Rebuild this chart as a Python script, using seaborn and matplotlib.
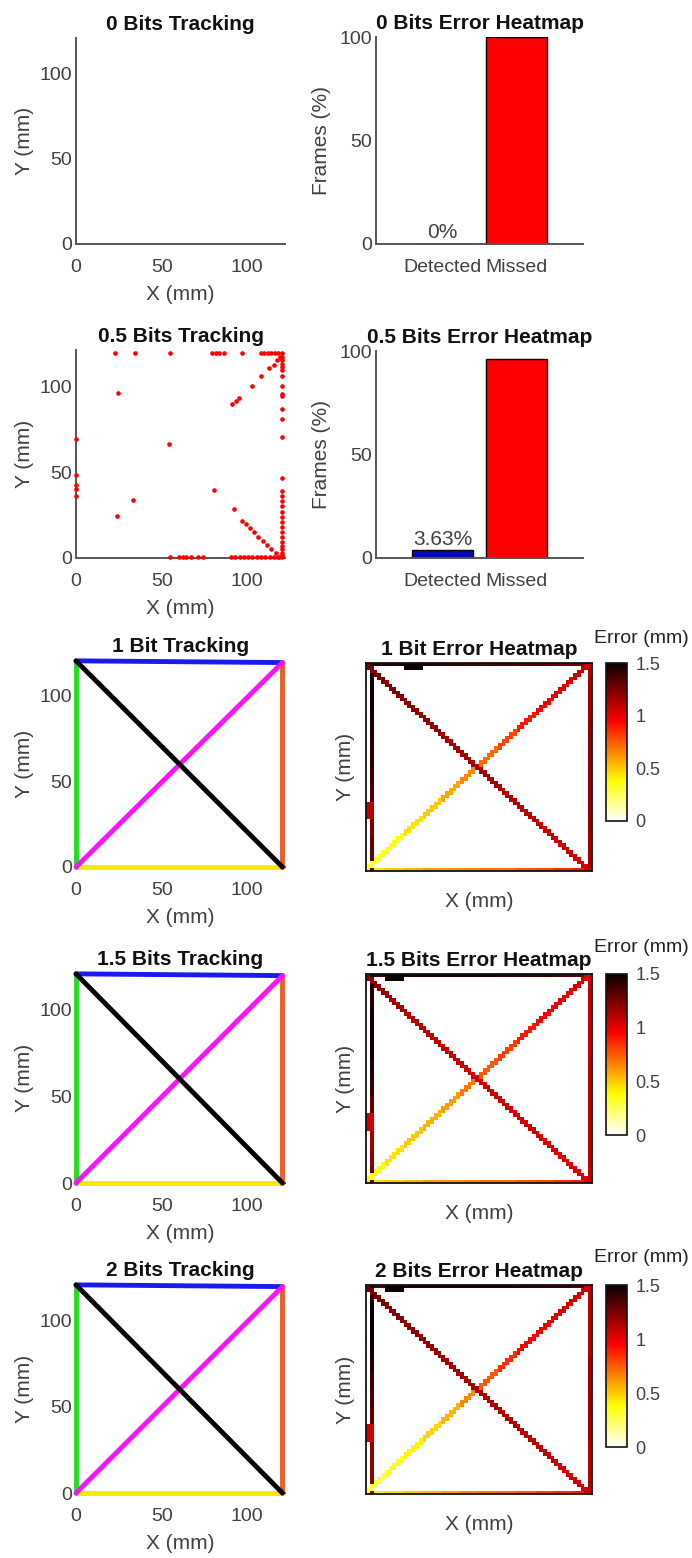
import numpy as np
import matplotlib
matplotlib.use("Agg")
import matplotlib.pyplot as plt
import seaborn as sns

sns.set_theme(style="white")
plt.rcParams["font.family"] = ["Liberation Sans", "DejaVu Sans"]

W, H = 692, 1558
GREY = "#404040"
SPINE = "#555555"

# ---------------------------------------------------------------- data
bar_categories = ["Detected", "Missed"]
frames_0bit = [0.0, 100.0]
frames_05bit = [3.63, 96.37]
bar_colors = ["#0a0ab4", "#ff0000"]

# 0.5 bit: scattered position estimates (mm)
pts05_x = [22.6, 34.2, 55.0, 79.5, 81.5, 83.5, 86.5, 96.7, 108, 110, 112, 114, 116, 118, 120,
           24.6, 0.0, 54.2, 0.0, 0.0, 0.0, 0.0, 80.7, 33.3, 24.0, 92.3,
           91.3, 93.2, 95.2, 102.5, 107.8, 112.6, 115.5, 117.5, 119.0,
           120.3, 120.3, 120.3, 120.3, 120.3, 120.3, 120.3, 120.3, 120.3, 120.3, 120.3, 120.3,
           120.3, 120.3, 120.3, 120.3, 120.3, 120.3, 120.3, 120.3, 120.3, 120.3, 120.3, 120.3,
           120.3, 120.3, 120.3, 120.3,
           97.1, 99.5, 101.5, 104.0, 106.5, 109.0, 111.5, 114.0, 116.5, 118.5,
           54.6, 60.4, 62.3, 64.3, 67.2, 71.0, 73.9, 90.3, 93.0, 95.5, 98.0, 100.5, 103.0,
           105.5, 108.0, 110.5, 113.0, 115.5, 118.0, 120.3]
pts05_y = [119.5, 119.5, 119.5, 119.5, 119.5, 119.5, 119.5, 119.5, 119.5, 119.5, 119.5, 119.5,
           119.5, 119.5, 119.5,
           96.2, 69.4, 66.5, 48.0, 42.5, 40.0, 36.0, 39.8, 33.5, 24.5, 28.3,
           89.5, 91.4, 93.3, 100.3, 105.7, 110.5, 112.4, 115.0, 117.0,
           117.0, 115.0, 113.0, 111.0, 109.6, 105.7, 100.0, 95.2, 94.3, 86.6, 80.9, 70.4,
           46.5, 38.8, 36.0, 33.0, 30.0, 27.0, 24.0, 21.0, 18.0, 15.0, 12.0, 9.5,
           7.0, 5.0, 3.0, 1.5,
           21.6, 19.5, 17.3, 14.9, 12.5, 10.0, 7.7, 5.3, 2.9, 0.6,
           0.3, 0.3, 0.3, 0.3, 0.3, 0.3, 0.3, 0.3, 0.3, 0.3, 0.3, 0.3, 0.3,
           0.3, 0.3, 0.3, 0.3, 0.3, 0.3, 0.3]

# tracked trajectory segments (mm), drawn in this order
seg_names = ["bottom", "left", "top", "right", "diag_up", "diag_down"]
seg_x = {"bottom": [0, 120.5], "left": [0, 0], "top": [0, 120.5],
         "right": [120.5, 120.5], "diag_up": [0, 120.5], "diag_down": [0, 120.5]}
seg_y = {"bottom": [0, 0], "left": [0, 120.5], "top": [120.5, 119.5],
         "right": [119.5, 0], "diag_up": [0, 119.5], "diag_down": [120.5, 0]}
seg_colors = {"bottom": "#ffe600", "left": "#22dd22", "top": "#1a1aee",
              "right": "#e8602c", "diag_up": "#ff11ff", "diag_down": "#000000"}

# localisation error (mm) along each segment, one value per 10 mm
err_1bit = dict(
    top=[1.42, 1.45, 1.5, 1.45, 1.4, 1.38, 1.36, 1.35, 1.33, 1.32, 1.3, 1.28],
    left=[1.3, 1.3, 1.25, 1.1, 1.35, 1.4, 1.42, 1.45, 1.45, 1.48, 1.48, 1.45],
    bottom=[0.45, 0.5, 0.55, 0.6, 0.62, 0.65, 0.7, 0.72, 0.75, 0.8, 0.85, 0.9],
    right=[1.15, 1.15, 1.18, 1.2, 1.2, 1.2, 1.2, 1.2, 1.18, 1.15, 1.15, 1.12],
    diag_up=[0.32, 0.38, 0.45, 0.5, 0.58, 0.65, 0.72, 0.8, 0.9, 0.97, 1.03, 1.08],
    diag_down=[1.25, 1.22, 1.2, 1.18, 1.16, 1.15, 1.15, 1.13, 1.1, 1.08, 1.06, 1.05],
    top_inner=[np.nan, np.nan, 1.5] + [np.nan] * 9,
    left_outer=[np.nan] * 3 + [1.1] + [np.nan] * 8,
)
err_15bit = dict(
    top=[1.4, 1.5, 1.45, 1.45, 1.45, 1.45, 1.45, 1.42, 1.4, 1.4, 1.35, 1.3],
    left=[1.25, 1.2, 1.15, 1.05, 1.3, 1.4, 1.45, 1.48, 1.48, 1.48, 1.45, 1.45],
    bottom=[0.45, 0.5, 0.55, 0.6, 0.62, 0.65, 0.7, 0.72, 0.75, 0.8, 0.85, 0.9],
    right=[1.08, 1.1, 1.1, 1.1, 1.1, 1.1, 1.1, 1.08, 1.08, 1.08, 1.08, 1.08],
    diag_up=[0.38, 0.44, 0.5, 0.55, 0.6, 0.68, 0.75, 0.82, 0.9, 0.95, 1.0, 1.04],
    diag_down=[1.2, 1.15, 1.12, 1.1, 1.08, 1.06, 1.06, 1.05, 1.05, 1.03, 1.02, 1.02],
    top_inner=[np.nan, 1.5] + [np.nan] * 10,
    left_outer=[np.nan] * 3 + [1.05] + [np.nan] * 8,
)
err_2bit = dict(
    top=[1.35, 1.5, 1.45, 1.45, 1.45, 1.45, 1.45, 1.45, 1.42, 1.4, 1.4, 1.35],
    left=[1.2, 1.2, 1.2, 1.05, 1.3, 1.35, 1.4, 1.45, 1.48, 1.5, 1.5, 1.45],
    bottom=[0.4, 0.45, 0.5, 0.55, 0.6, 0.65, 0.7, 0.72, 0.75, 0.8, 0.85, 0.9],
    right=[1.12, 1.12, 1.12, 1.15, 1.15, 1.15, 1.15, 1.15, 1.12, 1.12, 1.1, 1.08],
    diag_up=[0.28, 0.33, 0.4, 0.48, 0.55, 0.65, 0.75, 0.85, 0.95, 1.0, 1.04, 1.06],
    diag_down=[1.25, 1.22, 1.2, 1.18, 1.15, 1.15, 1.13, 1.12, 1.1, 1.08, 1.06, 1.05],
    top_inner=[np.nan, 1.5] + [np.nan] * 10,
    left_outer=[np.nan] * 3 + [1.05] + [np.nan] * 8,
)

panel_titles = ["0 Bits", "0.5 Bits", "1 Bit", "1.5 Bits", "2 Bits"]

# ---------------------------------------------------------------- helpers
N_CELLS = 60
REP = 5


def rect(x0, y0, x1, y1):
    return [x0 / W, 1 - y1 / H, (x1 - x0) / W, (y1 - y0) / H]


def error_grid(err):
    g = np.full((N_CELLS, N_CELLS), np.nan)  # row 0 = y bottom
    idx = np.arange(N_CELLS)
    g[0, :] = np.repeat(err["bottom"], REP)
    g[:, N_CELLS - 1] = np.repeat(err["right"], REP)
    g[N_CELLS - 1, :] = np.repeat(err["top"], REP)
    g[:, 1] = np.repeat(err["left"], REP)
    inner = np.repeat(err["top_inner"], REP)
    g[N_CELLS - 2, :] = np.where(np.isnan(inner), g[N_CELLS - 2, :], inner)
    g[:, 0] = np.repeat(err["left_outer"], REP)
    # diagonals are two cells thick
    up = np.repeat(err["diag_up"], REP)
    g[idx, idx] = up
    g[np.minimum(idx + 1, N_CELLS - 1), idx] = up
    down = np.repeat(err["diag_down"], REP)
    g[N_CELLS - 1 - idx, idx] = down
    g[np.maximum(N_CELLS - 2 - idx, 0), idx] = down
    return g


def style_xy(ax, title):
    ax.set_xlim(0, 122)
    ax.set_ylim(0, 121)
    ax.set_xticks([0, 50, 100])
    ax.set_yticks([0, 50, 100])
    for s in ("top", "right"):
        ax.spines[s].set_visible(False)
    for s in ("left", "bottom"):
        ax.spines[s].set_color(SPINE)
        ax.spines[s].set_linewidth(1.4)
    ax.tick_params(axis="both", direction="in", length=3, color=SPINE,
                   labelsize=14, labelcolor=GREY)
    ax.tick_params(axis="x", pad=11)
    ax.tick_params(axis="y", pad=3)
    ax.set_xlabel("X (mm)", fontsize=15, color=GREY, labelpad=6)
    ax.set_ylabel("Y (mm)", fontsize=15, color=GREY, labelpad=4)
    ax.set_title(title, fontsize=15, fontweight="bold", color="#111111", pad=6)


def bar_panel(ax, values, title):
    sns.barplot(x=bar_categories, y=values, hue=bar_categories, palette=bar_colors,
                saturation=1, legend=False, width=0.83, edgecolor="black",
                linewidth=1, ax=ax)
    ax.set_xlim(-0.9, 1.9)
    ax.set_ylim(0, 100)
    ax.set_yticks([0, 50, 100])
    for s in ("top", "right"):
        ax.spines[s].set_visible(False)
    for s in ("left", "bottom"):
        ax.spines[s].set_color(SPINE)
        ax.spines[s].set_linewidth(1.4)
    ax.tick_params(axis="both", direction="in", length=0, labelsize=14, labelcolor=GREY)
    ax.tick_params(axis="x", pad=11)
    ax.tick_params(axis="y", pad=3)
    ax.set_ylabel("Frames (%)", fontsize=15, color=GREY, labelpad=6)
    ax.set_title(title, fontsize=15, fontweight="bold", color="#111111", pad=6)
    v = values[0]
    ax.text(0, v + 0.8, f"{v:g}%", ha="center", va="bottom", fontsize=15, color=GREY)


def heat_panel(ax, cax, err, title, label_y):
    grid = error_grid(err)
    sns.heatmap(np.flipud(grid), cmap="hot_r", vmin=0, vmax=1.5, ax=ax, cbar_ax=cax,
                xticklabels=False, yticklabels=False,
                cbar_kws={"ticks": [0, 0.5, 1, 1.5]})
    for sp in ax.spines.values():
        sp.set_visible(True)
        sp.set_color("#111111")
        sp.set_linewidth(1.3)
    ax.set_xlabel("X (mm)", fontsize=15, color=GREY, labelpad=15)
    ax.set_ylabel("Y (mm)", fontsize=15, color=GREY, labelpad=8)
    ax.set_title(title, fontsize=15, fontweight="bold", color="#111111", pad=6)
    cb = ax.collections[0].colorbar
    cb.outline.set_visible(True)
    cb.outline.set_linewidth(1.2)
    cb.outline.set_edgecolor("#111111")
    cax.set_yticklabels(["0", "0.5", "1", "1.5"])
    cax.tick_params(length=0, labelsize=13, labelcolor=GREY, pad=6)
    fig.text(641 / W, 1 - label_y / H, "Error (mm)", ha="center", va="center",
             fontsize=14, color="#222222")


# ---------------------------------------------------------------- figure
fig = plt.figure(figsize=(W / 100, H / 100), dpi=100)
fig.patch.set_facecolor("white")

track_rects = [(76, 38, 285, 244), (76, 350, 285, 558), (76, 660, 285, 867),
               (76, 973, 285, 1183), (76, 1284, 285, 1493)]
bar_rects = [(376, 37, 583, 244), (376, 351, 583, 558)]
heat_rects = [(366, 663, 592, 871), (366, 974, 592, 1183), (366, 1285, 592, 1494)]
cbar_rects = [(606, 663, 627, 821), (606, 974, 627, 1135), (606, 1285, 627, 1447)]
err_label_y = [638, 948, 1258]

track_axes = [fig.add_axes(rect(*r)) for r in track_rects]

# 0 bits: nothing tracked
style_xy(track_axes[0], f"{panel_titles[0]} Tracking")

# 0.5 bits: sparse detections
sns.scatterplot(x=pts05_x, y=pts05_y, color="#ff0000", s=11, linewidth=0,
                ax=track_axes[1], clip_on=False, zorder=3)
style_xy(track_axes[1], f"{panel_titles[1]} Tracking")

# 1 - 2 bits: full trajectory
for ax, name in zip(track_axes[2:], panel_titles[2:]):
    for seg in seg_names:
        sns.lineplot(x=seg_x[seg], y=seg_y[seg], color=seg_colors[seg], lw=3.5,
                     sort=False, estimator=None, ax=ax, clip_on=False, zorder=3)
    style_xy(ax, f"{name} Tracking")

for r, vals, name in zip(bar_rects, [frames_0bit, frames_05bit], panel_titles[:2]):
    bar_panel(fig.add_axes(rect(*r)), vals, f"{name} Error Heatmap")

for r, cr, err, name, ly in zip(heat_rects, cbar_rects, [err_1bit, err_15bit, err_2bit],
                                panel_titles[2:], err_label_y):
    heat_panel(fig.add_axes(rect(*r)), fig.add_axes(rect(*cr)), err,
               f"{name} Error Heatmap", ly)

fig.savefig("out.png", dpi=100, facecolor="white")
